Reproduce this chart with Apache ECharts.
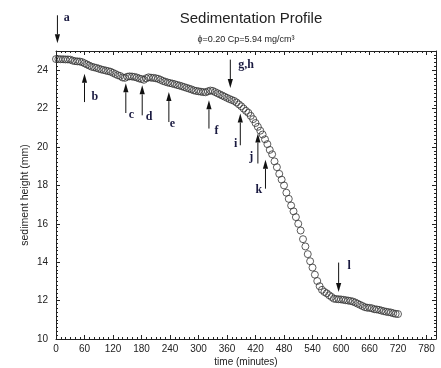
<!DOCTYPE html>
<html>
<head>
<meta charset="utf-8">
<script src="https://cdn.jsdelivr.net/npm/echarts@6/dist/echarts.min.js"></script>
<style>html,body{margin:0;padding:0;background:#fff;}#c{width:441px;height:368px;}</style>
</head>
<body>
<div id="c"></div>
<script>
// time (minutes), every 5 minutes
const times = [];
for (let t = 0; t <= 720; t += 5) times.push(t);
// sediment height (mm)
const heights = [
24.58,24.58,24.57,24.57,24.56,24.56,24.55,24.50,24.47,24.46,
24.45,24.42,24.36,24.30,24.24,24.18,24.15,24.12,24.08,24.04,
24.01,23.98,23.95,23.92,23.86,23.80,23.74,23.70,23.62,23.60,
23.66,23.68,23.67,23.65,23.62,23.57,23.54,23.50,23.58,23.63,
23.61,23.60,23.58,23.55,23.50,23.44,23.40,23.36,23.33,23.30,
23.27,23.23,23.20,23.16,23.12,23.08,23.04,23.00,22.95,22.92,
22.90,22.88,22.86,22.85,22.90,22.94,22.92,22.86,22.80,22.74,
22.68,22.62,22.56,22.50,22.45,22.40,22.32,22.22,22.12,22.00,
21.88,21.78,21.62,21.45,21.25,21.05,20.85,20.65,20.40,20.15,
19.85,19.62,19.25,18.95,18.60,18.30,18.00,17.62,17.30,16.95,
16.65,16.35,16.00,15.65,15.20,14.82,14.42,14.05,13.72,13.35,
13.02,12.75,12.56,12.45,12.38,12.28,12.19,12.10,12.08,12.07,
12.06,12.04,12.02,12.00,11.98,11.95,11.90,11.84,11.78,11.72,
11.66,11.63,11.62,11.60,11.55,11.54,11.52,11.48,11.45,11.42,
11.40,11.38,11.34,11.31,11.30
];
const xTicks = [0,60,120,180,240,300,360,420,480,540,600,660,720,780];
const yTicks = [10,12,14,16,18,20,22,24];
// annotation arrows: label, time, tail height, tip height, label time, label height
const arrowLabels = ['a','b','c','d','e','f','g,h','i','j','k','l'];
const arrowTimes  = [3, 60, 147, 181.5, 237.6, 322, 367, 388, 425, 441, 595];
const arrowTails  = [26.86, 22.34, 21.77, 21.65, 21.30, 20.96, 24.55, 20.09, 19.14, 17.83, 13.98];
const arrowTips   = [25.40, 23.82, 23.32, 23.21, 22.86, 22.43, 23.07, 21.74, 20.70, 19.34, 12.45];
const labelTimes  = [22.5, 82, 159, 196, 245, 338, 400, 378, 411, 427, 617];
const labelHeights= [26.70, 22.60, 21.65, 21.56, 21.22, 20.83, 24.26, 20.18, 19.48, 17.78, 13.79];

const font = 'Liberation Sans, Arial, sans-serif';
const chart = echarts.init(document.getElementById('c'), null, {renderer:'canvas'});
const data = times.map((t,i)=>[t, heights[i]]);
const lineC = '#222';
chart.setOption({
  animation:false,
  backgroundColor:'#fff',
  title:[
    {text:'Sedimentation Profile', left:246, top:6, textAlign:'center',
     textStyle:{fontFamily:font, fontSize:15, fontWeight:'normal', color:'#222'}},
    {text:'ϕ=0.20 Cp=5.94 mg/cm³', left:241, top:30, textAlign:'center',
     textStyle:{fontFamily:font, fontSize:9, fontWeight:'normal', color:'#222'}}
  ],
  grid:{left:56, right:5, top:51, bottom:29, containLabel:false, outerBoundsMode:'none'},
  xAxis:[
    {type:'value', min:0, max:800, interval:60, position:'bottom',
      name:'time (minutes)', nameLocation:'middle', nameGap:18, nameMoveOverlap:false,
      nameTextStyle:{fontFamily:font, fontSize:10, color:'#222'},
      axisLine:{show:true, onZero:false, lineStyle:{color:lineC, width:1}},
      axisTick:{show:true, inside:true, length:4, lineStyle:{color:lineC}},
      minorTick:{show:true, splitNumber:6, length:2, lineStyle:{color:lineC}},
      splitLine:{show:false}, minorSplitLine:{show:false},
      axisLabel:{fontFamily:font, fontSize:10, color:'#222', margin:5, showMaxLabel:false,
        formatter:v=> xTicks.indexOf(v)>=0 ? String(v) : ''}},
    {type:'value', min:0, max:800, interval:60, position:'top',
      axisLine:{show:true, onZero:false, lineStyle:{color:lineC}},
      axisTick:{show:true, inside:true, length:4, lineStyle:{color:lineC}},
      minorTick:{show:true, splitNumber:6, length:2, lineStyle:{color:lineC}},
      axisLabel:{show:false}, splitLine:{show:false}}
  ],
  yAxis:[
    {type:'value', min:10, max:25, interval:2, position:'left',
      name:'sediment height (mm)', nameLocation:'middle', nameGap:25, nameRotate:90, nameMoveOverlap:false,
      nameTextStyle:{fontFamily:font, fontSize:10.5, color:'#222'},
      axisLine:{show:true, onZero:false, lineStyle:{color:lineC}},
      axisTick:{show:true, inside:true, length:4, lineStyle:{color:lineC}},
      minorTick:{show:true, splitNumber:10, length:2, lineStyle:{color:lineC}},
      axisLabel:{fontFamily:font, fontSize:10, color:'#222', margin:8, showMaxLabel:false,
        formatter:v=> yTicks.indexOf(v)>=0 ? String(v) : ''},
      splitLine:{show:false}},
    {type:'value', min:10, max:25, interval:2, position:'right',
      axisLine:{show:true, onZero:false, lineStyle:{color:lineC}},
      axisTick:{show:true, inside:true, length:4, lineStyle:{color:lineC}},
      minorTick:{show:true, splitNumber:10, length:2, lineStyle:{color:lineC}},
      axisLabel:{show:false}, splitLine:{show:false}}
  ],
  series:[{
    type:'scatter', xAxisIndex:0, yAxisIndex:0, data:data,
    symbol:'circle', symbolSize:7,
    itemStyle:{color:'rgba(255,255,255,0)', borderColor:'#333', borderWidth:1},
    clip:false
  }]
});

const graphics = [];
for (let i=0;i<arrowLabels.length;i++){
  const tail = chart.convertToPixel({xAxisIndex:0, yAxisIndex:0}, [arrowTimes[i], arrowTails[i]]);
  const tip = chart.convertToPixel({xAxisIndex:0, yAxisIndex:0}, [arrowTimes[i], arrowTips[i]]);
  const lab = chart.convertToPixel({xAxisIndex:0, yAxisIndex:0}, [labelTimes[i], labelHeights[i]]);
  const dir = tip[1] > tail[1] ? 1 : -1;
  const headLen = 9, hw = 2.6;
  const base = tip[1] - dir*headLen;
  graphics.push({type:'line', silent:true, z:10,
    shape:{x1:tail[0], y1:tail[1], x2:tip[0], y2:base},
    style:{stroke:'#111', lineWidth:1}});
  graphics.push({type:'polygon', silent:true, z:10,
    shape:{points:[[tip[0],tip[1]],[tip[0]-hw,base],[tip[0]+hw,base]]},
    style:{fill:'#111'}});
  graphics.push({type:'text', silent:true, z:10, x:lab[0], y:lab[1],
    style:{text:arrowLabels[i], fill:'#1a1a40', font:'bold 12px "Liberation Serif", "Times New Roman", serif',
      align:'center', verticalAlign:'middle'}});
}
chart.setOption({graphic:graphics});
</script>
</body>
</html>
